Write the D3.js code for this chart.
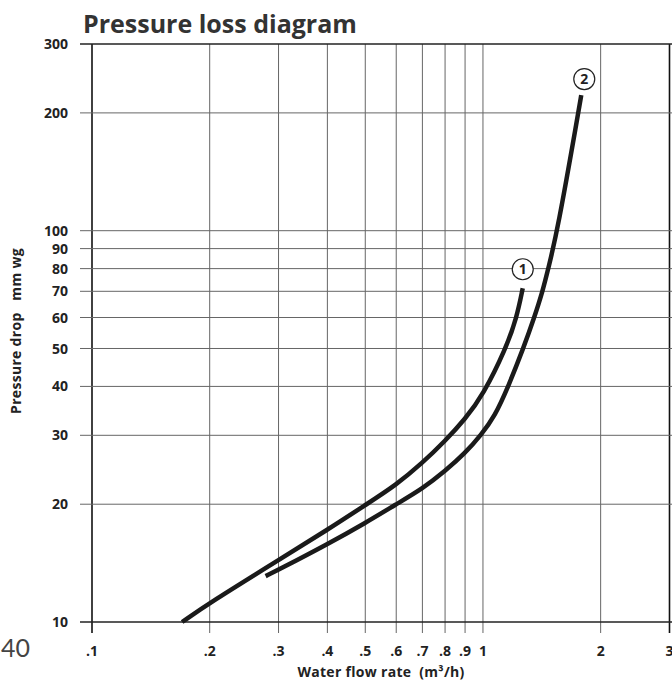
<!DOCTYPE html>
<html>
<head>
<meta charset="utf-8">
<script src="https://cdn.jsdelivr.net/npm/d3@7"></script>
<style>
  html, body { margin: 0; padding: 0; background: #fff; }
  svg { display: block; font-family: "Open Sans", Lato, sans-serif; }
  .grid line { stroke: #666; stroke-width: 1; }
  .tick-label { font-size: 14px; font-weight: 700; fill: #222; }
  .axis-label { font-size: 14px; font-weight: 700; fill: #222; letter-spacing: 0.3px; }
</style>
</head>
<body>
<div id="chart"></div>
<script>
// ---------- Data ----------
const xTicks = [0.1, 0.2, 0.3, 0.4, 0.5, 0.6, 0.7, 0.8, 0.9, 1, 2, 3];
const xTickLabels = [".1", ".2", ".3", ".4", ".5", ".6", ".7", ".8", ".9", "1", "2", "3"];
const yTicks = [10, 20, 30, 40, 50, 60, 70, 80, 90, 100, 200, 300];

// curve 1 (upper / left)
const flow1     = [0.17, 0.2, 0.3, 0.4, 0.5, 0.6, 0.7, 0.8, 0.9, 1.0, 1.145, 1.22, 1.264];
const pressure1 = [10, 11.2, 14.4, 17.2, 19.9, 22.4, 25.5, 29.0, 33.0, 38, 50, 60, 71.3];

// curve 2 (lower / right)
const flow2     = [0.278, 0.3, 0.4, 0.5, 0.6, 0.7, 0.8, 0.9, 0.987, 1.073, 1.161, 1.268, 1.353, 1.421, 1.469, 1.551, 1.753, 1.784];
const pressure2 = [13.1, 13.6, 15.8, 17.9, 20.0, 21.9, 24.3, 27.0, 30, 33.6, 40, 50, 60, 70, 80, 100, 200, 222];

const curveLabels = ["1", "2"];
const labelFlow = [1.264, 1.816];
const labelPressure = [79.7, 244];

// ---------- Layout ----------
const width = 672, height = 684;
const plot = { left: 92, right: 669.5, top: 44, bottom: 622 };

const svg = d3.select("#chart").append("svg")
  .attr("width", width)
  .attr("height", height);

// ---------- Scales ----------
const x = d3.scaleLog().domain([0.1, 3]).range([plot.left, plot.right]);
const y = d3.scaleLog().domain([10, 300]).range([plot.bottom, plot.top]);

// ---------- Grid ----------
const grid = svg.append("g").attr("class", "grid");

grid.selectAll(".vline")
  .data(xTicks)
  .enter()
  .append("line")
  .attr("class", "vline")
  .attr("x1", d => x(d)).attr("x2", d => x(d))
  .attr("y1", plot.top).attr("y2", plot.bottom + 11)
  .style("stroke", (d, i) => (i === 0 || i === xTicks.length - 1) ? "#111" : null)
  .style("stroke-width", (d, i) => (i === 0 || i === xTicks.length - 1) ? 1.6 : null);

grid.selectAll(".hline")
  .data(yTicks)
  .enter()
  .append("line")
  .attr("class", "hline")
  .attr("x1", plot.left - 12).attr("x2", width)
  .attr("y1", d => y(d)).attr("y2", d => y(d))
  .style("stroke", (d, i) => (i === 0 || i === yTicks.length - 1) ? "#222" : null)
  .style("stroke-width", (d, i) => (i === 0 || i === yTicks.length - 1) ? 1.4 : null);

// ---------- Tick labels ----------
svg.selectAll(".ytick")
  .data(yTicks)
  .enter()
  .append("text")
  .attr("class", "tick-label ytick")
  .attr("x", plot.left - 24)
  .attr("y", d => y(d))
  .attr("dy", "0.36em")
  .attr("text-anchor", "end")
  .text(d => d);

svg.selectAll(".xtick")
  .data(xTicks)
  .enter()
  .append("text")
  .attr("class", "tick-label xtick")
  .attr("x", d => x(d))
  .attr("y", 656)
  .attr("text-anchor", "middle")
  .text((d, i) => xTickLabels[i]);

// ---------- Curves ----------
// B-spline smooths out small reading errors in the digitised points
const line = d3.line()
  .x(d => x(d[0]))
  .y(d => y(d[1]))
  .curve(d3.curveBasis);

const series = [
  d3.zip(flow1, pressure1),
  d3.zip(flow2, pressure2)
];

svg.selectAll(".curve")
  .data(series)
  .enter()
  .append("path")
  .attr("class", "curve")
  .attr("d", line)
  .attr("fill", "none")
  .attr("stroke", "#1a1a1a")
  .attr("stroke-width", 4.5);

// ---------- Curve labels ----------
const labels = svg.selectAll(".curve-label")
  .data(curveLabels)
  .enter()
  .append("g")
  .attr("class", "curve-label")
  .attr("transform", (d, i) => `translate(${x(labelFlow[i])},${y(labelPressure[i])})`);

labels.append("circle")
  .attr("r", 10.5)
  .attr("fill", "#fff")
  .attr("stroke", "#222")
  .attr("stroke-width", 1.2);

labels.append("text")
  .attr("text-anchor", "middle")
  .attr("dy", "0.36em")
  .style("font-size", "14px")
  .style("font-weight", 700)
  .style("fill", "#222")
  .text(d => d);

// ---------- Titles ----------
svg.append("text")
  .attr("x", 83)
  .attr("y", 33)
  .style("font-size", "25px")
  .style("font-weight", 700)
  .style("fill", "#333")
  .text("Pressure loss diagram");

svg.append("text")
  .attr("class", "axis-label")
  .attr("x", 381)
  .attr("y", 677)
  .attr("text-anchor", "middle")
  .style("white-space", "pre")
  .text("Water flow rate  (m³/h)");

svg.append("text")
  .attr("class", "axis-label")
  .attr("transform", "rotate(-90)")
  .attr("x", -331)
  .attr("y", 21)
  .attr("text-anchor", "middle")
  .style("white-space", "pre")
  .text("Pressure drop   mm wg");

// stray page number at the lower left
svg.append("text")
  .attr("x", 30)
  .attr("y", 657)
  .attr("text-anchor", "end")
  .style("font-family", "Lato, sans-serif")
  .style("font-size", "25px")
  .style("font-weight", 400)
  .style("fill", "#444")
  .text("40");
</script>
</body>
</html>
